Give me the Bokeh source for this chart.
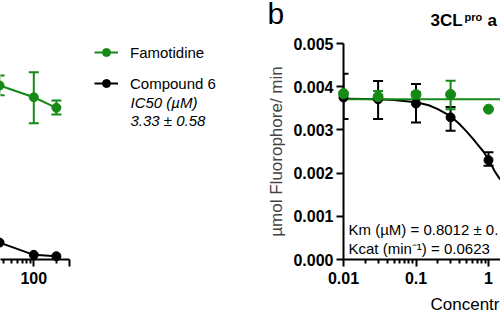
from bokeh.plotting import figure
from bokeh.layouts import row, column
from bokeh.models import (Range1d, FixedTicker, Whisker, TeeHead, ColumnDataSource,
                          Legend, LegendItem, Label, NumeralTickFormatter)
from bokeh.embed import file_html
from bokeh.resources import INLINE

GREEN = "#168a16"
BLACK = "#000000"
FONT = "Liberation Sans"

# ---------------- panel a (right edge only) ----------------
conc_a = [35, 100, 200]
fam_a = [100.7, 93.9, 87.8]
fam_a_lo = [95.0, 78.9, 83.9]
fam_a_hi = [106.5, 108.4, 92.0]
cmp_a = [9.8, 2.7, 1.9]
a_major_ticks = [100, 300]
a_tick_labels = {100: "100", 300: ""}
a_minor_ticks = [30, 40, 50, 60, 70, 80, 90, 200]
legend_labels = ["Famotidine", "Compound 6"]
ic50_lines = ["IC50 (µM)", "3.33 ± 0.58"]

# ---------------- panel b ----------------
conc_b = [0.01, 0.03, 0.1, 0.3, 1.0]
cmp_b = [0.00375, 0.00371, 0.00361, 0.00329, 0.00230]
cmp_b_lo = [0.00325, 0.00325, 0.00317, 0.00298, 0.00217]
cmp_b_hi = [0.00430, 0.00413, 0.00406, 0.00353, 0.00248]
fam_b = [0.00384, 0.00377, 0.00382, 0.00382, 0.00348]
fam_err_conc = [0.03, 0.1, 0.3]
fam_b_lo = [0.00369, 0.00378, 0.00348]
fam_b_hi = [0.00390, 0.00388, 0.00414]
fam_fit_x = [0.01, 100]
fam_fit_y = [0.00371, 0.00371]
cmp_fit_x = [0.01, 0.02, 0.03, 0.05, 0.1, 0.15, 0.2, 0.3, 0.4, 0.5, 0.6, 0.7, 0.85, 1.0, 1.1, 1.2,
             1.3, 1.4, 1.5]
cmp_fit_y = [0.00372, 0.003715, 0.00371, 0.00369, 0.00364, 0.00357, 0.00348, 0.00332, 0.00313,
             0.00296, 0.00281, 0.00267, 0.00250, 0.00232, 0.00219, 0.00206, 0.00197, 0.00189,
             0.00183]
b_major_ticks = [0.01, 0.1, 1, 10]
b_tick_labels = {0.01: "0.01", 0.1: "0.1", 1: "1", 10: "10"}
b_minor_ticks = [0.02, 0.03, 0.04, 0.05, 0.06, 0.07, 0.08, 0.09,
                 0.2, 0.3, 0.4, 0.5, 0.6, 0.7, 0.8, 0.9, 2, 3, 4]
y_ticks_b = [0, 0.001, 0.002, 0.003, 0.004, 0.005]
title_b = ["3CL", "pro", " a"]
x_label_b = "Concentration (µM)"
y_label_b = "µmol Fluorophore/ min"
fit_text_b = ["Km (µM) = 0.8012 ± 0.", "Kcat (min⁻¹)  = 0.0623"]

# ---------------- layout constants ----------------
W = 500
H_TOP, H_MAIN, H_BOT = 34, 262, 23
W_A = 240
W_B = W - W_A
TOP, FRAME_H = 9, 216
BOTTOM = H_MAIN - TOP - FRAME_H
DEC_A = 75.0      # px per decade, panel a
X100_A = 33.3     # px of 100 from the left of panel a's frame
B_LEFT = 103
DEC_B = 72.5
FRAME_W_B = W_B - B_LEFT


def style_axis(ax, size="16px"):
    ax.axis_line_width = 2
    ax.axis_line_color = BLACK
    ax.major_tick_line_width = 2
    ax.major_tick_out = 7
    ax.major_tick_in = 0
    ax.minor_tick_line_width = 2
    ax.minor_tick_out = 4
    ax.minor_tick_in = 0
    ax.major_label_text_font = FONT
    ax.major_label_text_font_style = "bold"
    ax.major_label_text_font_size = size
    ax.major_label_text_color = BLACK


def whisker(p, xs, lo, hi, color):
    src = ColumnDataSource(dict(x=xs, lower=lo, upper=hi))
    w = Whisker(base="x", lower="lower", upper="upper", source=src, dimension="height",
                line_color=color, line_width=2,
                lower_head=TeeHead(size=10, line_color=color, line_width=2),
                upper_head=TeeHead(size=10, line_color=color, line_width=2))
    p.add_layout(w)


def lab(p, x, y, text, size, style="normal"):
    p.add_layout(Label(x=x, y=y, x_units="screen", y_units="screen", text=text,
                       text_font=FONT, text_font_size=size, text_font_style=style,
                       text_baseline="middle", text_align="left", text_color=BLACK,
                       level="overlay"))


def blank(height):
    f = figure(width=W, height=height, output_backend="svg", toolbar_location=None,
               title=None, x_range=Range1d(0, 1), y_range=Range1d(0, 1),
               x_axis_location=None, y_axis_location=None,
               min_border_left=0, min_border_right=0, min_border_top=0, min_border_bottom=0)
    f.outline_line_color = None
    f.grid.visible = False
    return f


# ---------------- strip above: panel letter and title ----------------
ptop = blank(H_TOP)
lab(ptop, 267, H_TOP - 12.5, "b", "30px")
lab(ptop, 430, H_TOP - 20, title_b[0], "17px", "bold")
lab(ptop, 464, H_TOP - 16.5, title_b[1], "11px", "bold")
lab(ptop, 487, H_TOP - 20, title_b[2], "17px", "bold")

# ---------------- figure a ----------------
xa_start = 10 ** (2 - X100_A / DEC_A)
pa = figure(width=W_A, height=H_MAIN, output_backend="svg", toolbar_location=None,
            title=None, x_axis_type="log",
            x_range=Range1d(xa_start, 10 ** (2 + (W_A - X100_A) / DEC_A)),
            y_range=Range1d(0, 125), y_axis_location=None,
            min_border_left=0, min_border_right=0, min_border_top=TOP, min_border_bottom=BOTTOM)
pa.outline_line_color = None
pa.grid.visible = False
xa = pa.xaxis[0]
xa.ticker = FixedTicker(ticks=a_major_ticks, minor_ticks=a_minor_ticks)
xa.major_label_overrides = a_tick_labels
xa.bounds = (xa_start, 300)
style_axis(xa, "16px")
xa.major_label_standoff = 5

whisker(pa, conc_a, fam_a_lo, fam_a_hi, GREEN)
bl = pa.line(conc_a, cmp_a, line_color=BLACK, line_width=2)
bs = pa.scatter(conc_a, cmp_a, size=9, color=BLACK, level="overlay")
gl = pa.line(conc_a, fam_a, line_color=GREEN, line_width=2)
gs = pa.scatter(conc_a, fam_a, size=9, color=GREEN, level="overlay")

leg = Legend(items=[LegendItem(label=legend_labels[0], renderers=[gl, gs]),
                    LegendItem(label=legend_labels[1], renderers=[bl, bs])],
             location=(94, 166), padding=0, margin=0, spacing=11,
             glyph_height=20, glyph_width=24, label_standoff=12, label_height=20,
             border_line_alpha=0, background_fill_alpha=0,
             label_text_font=FONT, label_text_font_size="15px", label_text_color=BLACK)
pa.add_layout(leg)
for txt, yy in zip(ic50_lines, [157, 139]):
    lab(pa, 130, yy, txt, "15px", "italic")

# ---------------- figure b ----------------
pb = figure(width=W_B, height=H_MAIN, output_backend="svg", toolbar_location=None,
            title=None, x_axis_type="log",
            x_range=Range1d(0.01, 10 ** (-2 + FRAME_W_B / DEC_B)),
            y_range=Range1d(0, 0.005),
            min_border_left=B_LEFT, min_border_right=0, min_border_top=TOP, min_border_bottom=BOTTOM)
pb.outline_line_color = None
pb.grid.visible = False
xb = pb.xaxis[0]
xb.ticker = FixedTicker(ticks=b_major_ticks, minor_ticks=b_minor_ticks)
xb.major_label_overrides = b_tick_labels
style_axis(xb, "16px")
xb.major_label_standoff = 5
yb = pb.yaxis[0]
yb.ticker = FixedTicker(ticks=y_ticks_b, minor_ticks=[])
yb.formatter = NumeralTickFormatter(format="0.000")
style_axis(yb, "16px")
yb.major_label_standoff = 3
yb.axis_label = y_label_b
yb.axis_label_text_font = FONT
yb.axis_label_text_font_style = "normal"
yb.axis_label_text_font_size = "17px"
yb.axis_label_standoff = 4

whisker(pb, conc_b, cmp_b_lo, cmp_b_hi, BLACK)
pb.line(cmp_fit_x, cmp_fit_y, line_color=BLACK, line_width=2)
pb.scatter(conc_b, cmp_b, size=9, color=BLACK, level="overlay")
whisker(pb, fam_err_conc, fam_b_lo, fam_b_hi, GREEN)
pb.line(fam_fit_x, fam_fit_y, line_color=GREEN, line_width=2)
pb.scatter(conc_b, fam_b, size=10, color=GREEN, level="overlay")

lab(pb, 5, 30.5, fit_text_b[0], "15px")
lab(pb, 5, 11.5, fit_text_b[1], "15px")

# ---------------- strip below: x axis title of panel b ----------------
pbot = blank(H_BOT)
lab(pbot, 430, 15, x_label_b, "17px")

layout = column(ptop, row(pa, pb, spacing=0), pbot, spacing=0)
open("out.html", "w").write(file_html(layout, INLINE))
